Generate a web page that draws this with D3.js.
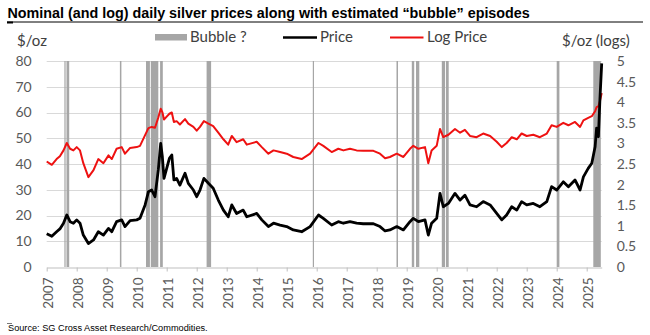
<!DOCTYPE html>
<html><head><meta charset="utf-8">
<script src="https://cdn.jsdelivr.net/npm/d3@7"></script>
<style>
html,body{margin:0;padding:0;background:#fff;}
svg{display:block;}
</style></head>
<body>
<svg id="chart" width="650" height="335"></svg>
<script>
// ---------------- DATA ----------------
const yearLabels = ["2007","2008","2009","2010","2011","2012","2013","2014","2015","2016","2017","2018","2019","2020","2021","2022","2023","2024","2025"];
const leftTicks = [0,10,20,30,40,50,60,70,80];
const rightTicks = [0,0.5,1,1.5,2,2.5,3,3.5,4,4.5,5];

// dates as decimal years
const dates = [2007.50,2007.67,2007.83,2007.94,2008.06,2008.17,2008.28,2008.39,2008.50,2008.61,
2008.72,2008.89,2009.06,2009.22,2009.39,2009.56,2009.67,2009.83,2010.00,2010.11,
2010.28,2010.50,2010.61,2010.78,2010.89,2011.00,2011.11,2011.22,2011.30,2011.355,
2011.41,2011.50,2011.59,2011.67,2011.74,2011.83,2011.94,2012.11,2012.22,2012.39,
2012.50,2012.61,2012.74,2012.89,2013.05,2013.22,2013.39,2013.55,2013.67,2013.83,
2014.05,2014.17,2014.50,2014.67,2014.89,2015.06,2015.28,2015.50,2015.72,2016.00,
2016.28,2016.56,2016.72,2017.00,2017.22,2017.39,2017.61,2017.83,2018.05,2018.39,
2018.61,2018.78,2018.94,2019.17,2019.39,2019.61,2019.72,2019.89,2020.11,2020.22,
2020.33,2020.50,2020.61,2020.72,2020.89,2021.11,2021.28,2021.44,2021.61,2021.83,
2022.05,2022.28,2022.50,2022.67,2022.83,2023.00,2023.17,2023.33,2023.50,2023.72,
2023.94,2024.17,2024.33,2024.50,2024.72,2024.89,2025.11,2025.28,2025.39,2025.55,
2025.67,2025.78,2025.83,2025.89,2025.94,2026.00];

const price = [12.9,11.9,13.7,14.8,17.0,20.2,17.6,17.0,18.3,17.0,
12.4,9.1,10.5,13.7,12.4,15.0,13.7,17.6,18.3,15.7,
18.0,18.3,18.9,24.1,29.2,29.9,27.3,37.7,48.0,42.8,
34.4,38.3,42.2,43.5,33.8,34.4,31.8,36.4,32.5,29.9,
27.3,29.9,34.4,32.5,30.6,26.0,22.1,19.5,24.1,20.8,
22.1,19.5,20.8,18.3,15.7,17.0,16.3,15.7,14.4,13.7,
15.7,20.2,18.9,16.3,17.6,17.0,17.6,17.0,16.8,16.8,
15.7,14.0,14.4,15.7,14.4,17.6,18.9,17.6,18.3,12.4,
17.0,18.9,28.6,23.4,24.7,28.6,26.0,27.9,24.1,23.4,
25.4,24.1,20.8,18.3,20.2,23.4,22.1,25.4,24.1,24.7,
23.4,25.4,31.2,29.9,33.1,31.2,33.8,29.9,35.0,38.3,
40.3,46.7,53.9,50.6,64.9,79.1];

const logPrice = [2.56,2.48,2.62,2.69,2.83,3.01,2.87,2.83,2.91,2.83,
2.52,2.18,2.35,2.62,2.52,2.71,2.62,2.87,2.91,2.75,
2.89,2.91,2.94,3.20,3.37,3.40,3.38,3.63,3.84,3.76,
3.58,3.65,3.72,3.75,3.52,3.54,3.46,3.59,3.48,3.40,
3.31,3.40,3.54,3.48,3.42,3.26,3.10,2.97,3.18,3.03,
3.10,2.97,3.04,2.91,2.75,2.83,2.79,2.75,2.67,2.62,
2.75,3.01,2.94,2.79,2.87,2.83,2.87,2.83,2.82,2.82,
2.75,2.64,2.67,2.75,2.67,2.87,2.94,2.87,2.91,2.52,
2.83,2.94,3.35,3.15,3.21,3.35,3.26,3.33,3.18,3.15,
3.24,3.18,3.04,2.91,3.01,3.15,3.10,3.24,3.18,3.21,
3.15,3.24,3.44,3.40,3.50,3.44,3.52,3.40,3.56,3.62,
3.66,3.78,3.88,3.90,4.02,4.22];

// estimated bubble episodes (decimal years)
const bubbleStart = [2008.09,2008.16,2009.94,2010.81,2010.97,2011.28,2012.83,2016.37,2019.16,2019.67,2019.81,2020.67,2020.81,2024.50,2025.72];
const bubbleEnd   = [2008.12,2008.25,2009.99,2010.94,2011.22,2011.37,2012.98,2016.41,2019.21,2019.75,2019.92,2020.78,2020.90,2024.59,2025.97];

// ---------------- CHART ----------------
const svg = d3.select("#chart");
const pL = 46.7, pR = 601.7, pT = 61, pB = 267;
const x = d3.scaleLinear().domain([2007.5, 2026.0]).range([pL, pR]);
const yL = d3.scaleLinear().domain([0, 80]).range([pB, pT]);
const yR = d3.scaleLinear().domain([0, 5]).range([pB, pT]);
const uiFont = "Lato, 'Open Sans', sans-serif";

// title
const title = svg.append("text").attr("x", 7.5).attr("y", 18)
  .attr("font-family", "'Liberation Sans', Arial, sans-serif")
  .attr("font-weight", "bold").attr("font-size", 13).attr("fill", "#000")
  .text("Nominal (and log) daily silver prices along with estimated “bubble” episodes");
const tw = title.node().getComputedTextLength();
title.attr("font-size", 13 * 523 / tw);
svg.append("line").attr("x1", 7).attr("x2", 643).attr("y1", 22).attr("y2", 22)
  .attr("stroke", "#000").attr("stroke-width", 1);
svg.append("line").attr("x1", 7).attr("x2", 13).attr("y1", 22.5).attr("y2", 22.5)
  .attr("stroke", "#000").attr("stroke-width", 2);

// gridlines
svg.append("g").selectAll("line").data(leftTicks.filter(d => d > 0)).join("line")
  .attr("x1", pL).attr("x2", pR)
  .attr("y1", d => Math.round(yL(d)) + 0.5).attr("y2", d => Math.round(yL(d)) + 0.5)
  .attr("stroke", "#d9d9d9").attr("stroke-width", 1);

// bubble bars
svg.append("g").selectAll("rect").data(bubbleStart).join("rect")
  .attr("x", (d) => x(d))
  .attr("width", (d, i) => Math.max(1.2, x(bubbleEnd[i]) - x(d)))
  .attr("y", pT).attr("height", pB - pT)
  .attr("fill", "#a6a6a6");

// x axis
const xAxis = d3.axisBottom(x)
  .tickValues(yearLabels.map(s => +s + 0.5))
  .tickFormat(d => String(Math.floor(d)))
  .tickSize(4).tickSizeOuter(0);
const gx = svg.append("g").attr("transform", `translate(0,${pB + 0.5})`).call(xAxis);
gx.select(".domain").attr("stroke", "#bfbfbf");
gx.selectAll(".tick line").attr("stroke", "#bfbfbf");
gx.selectAll(".tick text")
  .attr("font-family", uiFont).attr("font-size", 13.5).attr("fill", "#595959")
  .attr("transform", "rotate(-90)")
  .attr("text-anchor", "end").attr("x", -10).attr("y", 1).attr("dy", "0.35em");

// left axis
const gl = svg.append("g").attr("transform", `translate(${pL - 12},0)`)
  .call(d3.axisLeft(yL).tickValues(leftTicks).tickSize(0).tickFormat(d3.format("d")));
gl.select(".domain").remove();
gl.selectAll("text").attr("font-family", uiFont).attr("font-size", 14).attr("fill", "#595959");

// right axis
const gr = svg.append("g").attr("transform", `translate(${pR + 12},0)`)
  .call(d3.axisRight(yR).tickValues(rightTicks).tickSize(0).tickFormat(d => String(d)));
gr.select(".domain").remove();
gr.selectAll("text").attr("font-family", uiFont).attr("font-size", 14).attr("fill", "#595959");

// lines
const lineP = d3.line().x((d, i) => x(dates[i])).y(d => yL(d));
const lineL = d3.line().x((d, i) => x(dates[i])).y(d => yR(d));
svg.append("path").datum(logPrice).attr("d", lineL)
  .attr("fill", "none").attr("stroke", "#ee1111").attr("stroke-width", 2).attr("stroke-linejoin", "round");
svg.append("path").datum(price).attr("d", lineP)
  .attr("fill", "none").attr("stroke", "#000").attr("stroke-width", 2.8).attr("stroke-linejoin", "round");

// axis titles
svg.append("text").attr("x", 17).attr("y", 46).attr("font-family", uiFont)
  .attr("font-size", 15).attr("fill", "#404040").text("$/oz");
svg.append("text").attr("x", 562).attr("y", 46).attr("font-family", uiFont)
  .attr("font-size", 15).attr("fill", "#404040").text("$/oz (logs)");

// legend
svg.append("rect").attr("x", 155).attr("y", 34).attr("width", 32).attr("height", 6.5).attr("fill", "#a6a6a6");
svg.append("text").attr("x", 190).attr("y", 42).attr("font-family", uiFont)
  .attr("font-size", 15).attr("fill", "#404040").text("Bubble ?");
svg.append("line").attr("x1", 283).attr("x2", 317).attr("y1", 37.5).attr("y2", 37.5)
  .attr("stroke", "#000").attr("stroke-width", 2.5);
svg.append("text").attr("x", 320).attr("y", 42).attr("font-family", uiFont)
  .attr("font-size", 15).attr("fill", "#404040").text("Price");
svg.append("line").attr("x1", 390).attr("x2", 423.5).attr("y1", 37.5).attr("y2", 37.5)
  .attr("stroke", "#ee1111").attr("stroke-width", 2);
svg.append("text").attr("x", 427).attr("y", 42).attr("font-family", uiFont)
  .attr("font-size", 15).attr("fill", "#404040").text("Log Price");

// source
svg.append("line").attr("x1", 7).attr("x2", 12).attr("y1", 323.5).attr("y2", 323.5)
  .attr("stroke", "#555").attr("stroke-width", 0.8);
const src = svg.append("text").attr("x", 8).attr("y", 331)
  .attr("font-family", "'Liberation Sans', Arial, sans-serif")
  .attr("font-size", 9).attr("fill", "#000")
  .text("Source: SG Cross Asset Research/Commodities.");
const sw = src.node().getComputedTextLength();
src.attr("font-size", 9 * 200 / sw);
</script>
</body></html>
